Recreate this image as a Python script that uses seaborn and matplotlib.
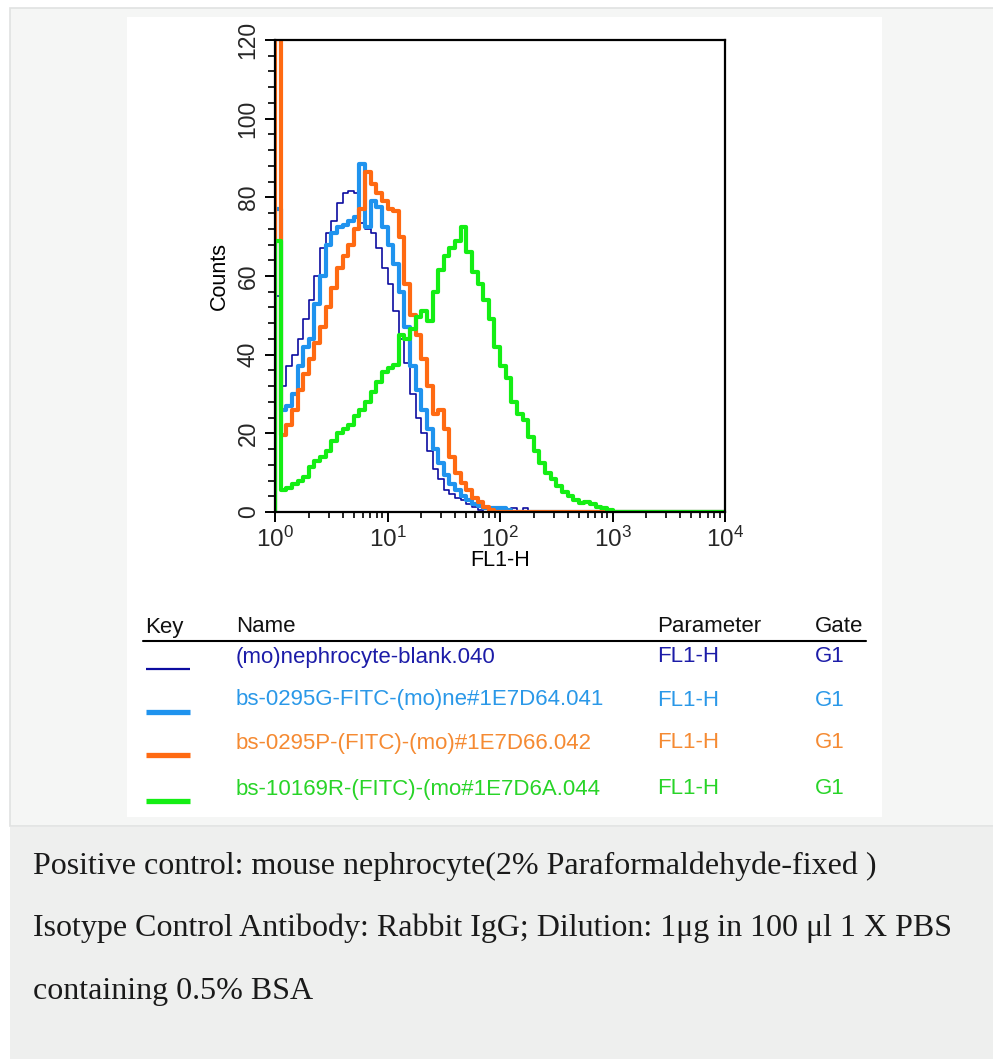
import numpy as np
import matplotlib
matplotlib.use("Agg")
import matplotlib.pyplot as plt
from matplotlib.patches import Rectangle
from matplotlib.lines import Line2D
from matplotlib.ticker import MultipleLocator, LogLocator, NullFormatter, LogFormatterSciNotation
import seaborn as sns

# ---------------- data ----------------
# histogram bins: 80 channels of 0.05 decade from 10^0 to 10^4
bin_width_decades = 0.05
n_bins = 80

navy_counts = [55, 32, 37, 40, 44, 49, 54, 60, 67, 71, 74, 78.5, 81, 81.5, 81, 73.5,
               72, 71, 67, 62, 58, 51, 44, 38, 30, 24, 20, 15.5, 11, 8.5, 5.5, 4.5,
               3.5, 3, 2, 1.3, 0.5, 0, 0, 0.5, 1, 0.3, 1, 0.3, 1, 0.3]
blue_counts = [77, 26, 27, 30, 37, 42, 44, 53, 60, 68, 71, 72.5, 73, 74, 75, 88.5,
               72.5, 79, 77.5, 72.5, 68, 63, 56, 47, 37, 31, 26, 21, 16, 12.5, 9.5, 7,
               5.5, 4, 3, 2, 1.5, 1, 1, 1, 1, 0.5]
orange_counts = [125, 19.5, 22, 26, 31, 35, 39, 43, 47, 52, 57, 62, 65, 68, 72, 77,
                 86.5, 83.5, 81, 79, 77, 76.5, 70, 58, 50, 45, 39, 32, 25, 26, 21, 14,
                 10, 7.5, 5.5, 3.5, 2.5, 1.2, 0.5]
green_counts = [69, 5.5, 6, 7, 8, 9, 11.5, 13, 14, 15.5, 18, 20, 21, 22, 24.5, 26,
                28, 30.5, 33, 35.5, 36.5, 37.5, 45, 44, 46.5, 49.5, 51, 48.5, 56, 61.5, 65, 67,
                69, 72.5, 66, 61, 58, 54, 49, 42, 37, 34, 28, 25, 23.5, 19, 15.5, 12.5,
                10, 8.5, 6.5, 5, 4, 3, 2.2, 2.5, 2, 1.3, 1, 0.5]

series_names = ["(mo)nephrocyte-blank.040",
                "bs-0295G-FITC-(mo)ne#1E7D64.041",
                "bs-0295P-(FITC)-(mo)#1E7D66.042",
                "bs-10169R-(FITC)-(mo#1E7D6A.044"]
series_params = ["FL1-H", "FL1-H", "FL1-H", "FL1-H"]
series_gates = ["G1", "G1", "G1", "G1"]
series_counts = [navy_counts, blue_counts, orange_counts, green_counts]
line_colors = ["#0c0ca0", "#1f93ee", "#ff6a12", "#14ee14"]
text_colors = ["#1c1ca8", "#2a98e8", "#f58a32", "#28d428"]
line_widths = [1.2, 3.0, 3.0, 3.0]
key_widths = [1.6, 3.8, 3.8, 3.8]

header_labels = ["Key", "Name", "Parameter", "Gate"]
x_label = "FL1-H"
y_label = "Counts"
caption_lines = ["Positive control: mouse nephrocyte(2% Paraformaldehyde-fixed )",
                 "Isotype Control Antibody: Rabbit IgG; Dilution: 1\u03bcg in 100 \u03bcl 1 X PBS",
                 "containing 0.5% BSA"]

# ---------------- style ----------------
sns.set_theme(style="white")
plt.rcParams["font.family"] = ["Liberation Sans", "DejaVu Sans"]
plt.rcParams["mathtext.fontset"] = "custom"
plt.rcParams["mathtext.rm"] = "Liberation Sans"
plt.rcParams["mathtext.it"] = "Liberation Sans:italic"
plt.rcParams["mathtext.bf"] = "Liberation Sans:bold"

W, H = 993, 1059
fig = plt.figure(figsize=(W / 100, H / 100), dpi=100)
fig.patch.set_facecolor("white")


def fx(px):
    return px / W


def fy(py):
    return 1 - py / H


def rect(x0, y0, x1, y1, fc, ec="none", lw=0.0, z=0):
    fig.patches.append(Rectangle((fx(x0), fy(y1)), (x1 - x0) / W, (y1 - y0) / H,
                                 transform=fig.transFigure, facecolor=fc,
                                 edgecolor=ec, linewidth=lw, zorder=z))


rect(10, 8, 994, 826, "#f5f6f5", "#e0e2e1", 1.2, z=0)
rect(127, 17, 882, 817, "white", z=0.5)
rect(10, 827, 994, 1060, "#eeefee", z=0)

# ---------------- histogram axes ----------------
ax = fig.add_axes([fx(275), fy(512), 450 / W, 472 / H])
ax.set_zorder(5)
ax.set_facecolor("white")
ax.set_xscale("log")

edges = 10 ** (np.arange(n_bins + 1) * bin_width_decades)
for counts, col, lw in zip(series_counts, line_colors, line_widths):
    c = np.zeros(n_bins)
    c[:len(counts)] = counts
    xs = np.concatenate([[edges[0]], edges])
    ys = np.concatenate([[0.0], c, [c[-1]]])
    sns.lineplot(x=xs, y=ys, ax=ax, color=col, linewidth=lw, drawstyle="steps-post",
                 estimator=None, sort=False, legend=False)

ax.set_xlim(1, 1e4)
ax.set_ylim(0, 120)
ax.yaxis.set_major_locator(MultipleLocator(20))
ax.yaxis.set_minor_locator(MultipleLocator(4))
ax.xaxis.set_major_locator(LogLocator(base=10, numticks=10))
ax.xaxis.set_minor_locator(LogLocator(base=10, subs=np.arange(2, 10), numticks=20))
ax.xaxis.set_major_formatter(LogFormatterSciNotation())
ax.xaxis.set_minor_formatter(NullFormatter())

for s in ax.spines.values():
    s.set_color("black")
    s.set_linewidth(1.6)
    s.set_visible(True)

ax.tick_params(axis="both", which="both", direction="out", color="black",
               bottom=True, left=True, top=False, right=False)
ax.tick_params(axis="x", which="major", length=7.5, width=1.4, pad=3, labelsize=17.5)
ax.tick_params(axis="x", which="minor", length=4.5, width=1.2)
ax.tick_params(axis="y", which="major", length=7, width=1.4, pad=4, labelsize=16.5,
               labelrotation=90)
ax.tick_params(axis="y", which="minor", length=5, width=1.2)
for lab in ax.get_yticklabels():
    lab.set_va("center")

ax.set_xlabel(x_label, fontsize=15.5, labelpad=-1, color="black")
ax.set_ylabel(y_label, fontsize=15.5, labelpad=5, color="black")

# ---------------- key table ----------------
header_x = [145, 236, 657, 815]
for lbl, x in zip(header_labels, header_x):
    fig.text(fx(x), fy(627), lbl, fontsize=16, color="#111111", ha="left", va="center")
fig.add_artist(Line2D([fx(143), fx(866)], [fy(641), fy(641)], color="black",
                      linewidth=1.5, transform=fig.transFigure))

row_text_y = [657, 700, 743, 789]
for i in range(4):
    ty = row_text_y[i]
    fig.add_artist(Line2D([fx(146), fx(190)], [fy(ty + 12), fy(ty + 12)],
                          color=line_colors[i], linewidth=key_widths[i],
                          transform=fig.transFigure, solid_capstyle="butt"))
    fig.text(fx(236), fy(ty), series_names[i], fontsize=16, color=text_colors[i],
             ha="left", va="center")
    fig.text(fx(657), fy(ty), series_params[i], fontsize=16, color=text_colors[i],
             ha="left", va="center")
    fig.text(fx(815), fy(ty), series_gates[i], fontsize=16, color=text_colors[i],
             ha="left", va="center")

# ---------------- caption ----------------
caption_y = [866, 928, 991]
for line, y in zip(caption_lines, caption_y):
    fig.text(fx(33), fy(y), line, fontsize=23, color="#1a1a1a", ha="left", va="center",
             family=["Liberation Serif", "DejaVu Serif"])

fig.savefig("out.png", dpi=100, facecolor="white")
